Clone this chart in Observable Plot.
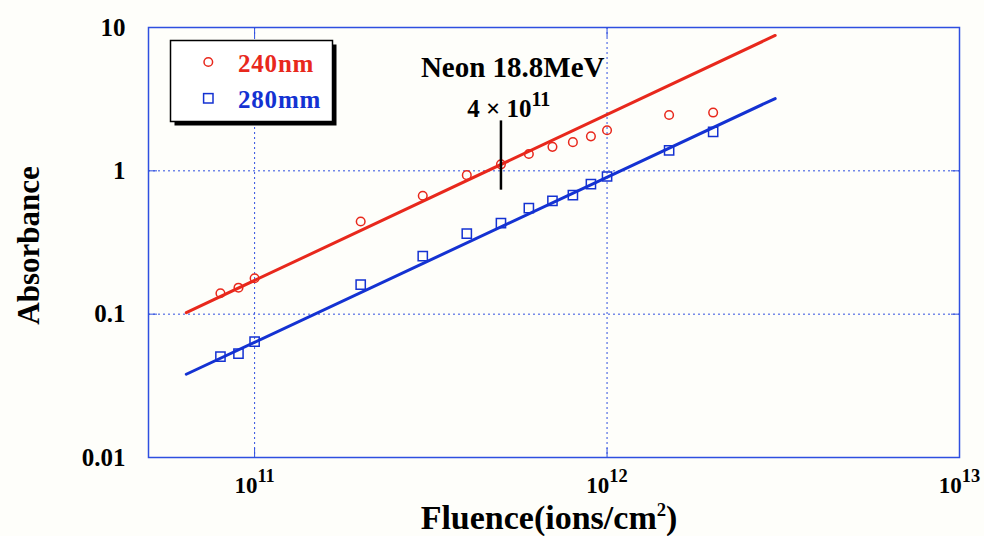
<!DOCTYPE html>
<html><head><meta charset="utf-8">
<script src="https://cdn.jsdelivr.net/npm/d3@7"></script>
<script src="https://cdn.jsdelivr.net/npm/@observablehq/plot@0.6"></script>
<style>
html,body{margin:0;padding:0;background:#fefefa;}
#wrap{position:relative;width:984px;height:536px;}
</style></head><body><div id="wrap"></div>
<script>
// ---- data ----
const fluence = [8e10, 9e10, 1e11, 2e11, 3e11, 4e11, 5e11, 6e11, 7e11, 8e11, 9e11, 1e12, 1.5e12, 2e12];
const abs240 = [0.140, 0.153, 0.178, 0.443, 0.67, 0.933, 1.11, 1.31, 1.47, 1.585, 1.74, 1.92, 2.45, 2.55];
const abs280 = [0.0506, 0.0531, 0.0644, 0.161, 0.254, 0.365, 0.431, 0.549, 0.617, 0.676, 0.808, 0.913, 1.39, 1.87];
const fitFluence = [6.4e10, 3e12];
const fit240 = [0.1026, 8.8];
const fit280 = [0.0381, 3.195];
const seriesNames = ["240nm", "280mm"];
const xTicks = [1e11, 1e12, 1e13];
const yTicks = [0.01, 0.1, 1, 10];
const xGrid = [1e11, 1e12];
const yGrid = [0.1, 1];
const noteTexts = ["Neon 18.8MeV", "4 × 10^{11}"];
const noteX = [5.4e11, 5.26e11];
const noteY = [4.53, 2.36];
const markerX = [5e11];
const markerY = [0.733, 2.23];
const xLabel = "Fluence(ions/cm^{2})";
const yLabel = "Absorbance";

const RED = "#e8281c", BLUE = "#1432d2", AX = "#2f4fe0";
const FONT = "'Liberation Serif','Times New Roman',serif";

const pts240 = fluence.map((x, i) => ({x, y: abs240[i]}));
const pts280 = fluence.map((x, i) => ({x, y: abs280[i]}));
const line240 = fitFluence.map((x, i) => ({x, y: fit240[i]}));
const line280 = fitFluence.map((x, i) => ({x, y: fit280[i]}));
const notes = noteTexts.map((t, i) => ({t, x: noteX[i], y: noteY[i]}));

const plot = Plot.plot({
  width: 984, height: 536,
  marginLeft: 148, marginRight: 25, marginTop: 27, marginBottom: 79,
  style: {background: "transparent", fontFamily: FONT, fontWeight: "bold", color: "#000"},
  x: {type: "log", domain: [5e10, 1e13]},
  y: {type: "log", domain: [0.01, 10]},
  marks: [
    Plot.gridX(xGrid, {stroke: AX, strokeOpacity: 1, strokeDasharray: "2,3", strokeWidth: 1}),
    Plot.gridY(yGrid, {stroke: AX, strokeOpacity: 1, strokeDasharray: "2,3", strokeWidth: 1}),
    Plot.frame({stroke: AX, strokeWidth: 1.5}),
    Plot.axisX(xGrid, {anchor: "bottom", tickSize: -9, stroke: AX, tickFormat: () => "", label: null}),
    Plot.axisX(xGrid, {anchor: "top", tickSize: -9, stroke: AX, tickFormat: () => "", label: null}),
    Plot.axisY(yGrid, {anchor: "left", tickSize: -9, stroke: AX, tickFormat: () => "", label: null}),
    Plot.axisY(yGrid, {anchor: "right", tickSize: -9, stroke: AX, tickFormat: () => "", label: null}),
    Plot.axisX(xTicks, {anchor: "bottom", tickSize: 0, tickPadding: 19, fontSize: 23,
      tickFormat: d => `10^{${Math.round(Math.log10(d))}}`, label: null}),
    Plot.axisY(yTicks, {anchor: "left", tickSize: 0, tickPadding: 23, fontSize: 25,
      tickFormat: d => String(d), label: null}),
    Plot.text([xLabel], {frameAnchor: "bottom", textAnchor: "middle", lineAnchor: "bottom", dy: 71, dx: -5, fontSize: 34}),
    Plot.text([yLabel], {frameAnchor: "left", textAnchor: "middle", rotate: -90, lineAnchor: "middle", dx: -119, dy: 3, fontSize: 31}),
    Plot.line(line240, {x: "x", y: "y", stroke: RED, strokeWidth: 3}),
    Plot.line(line280, {x: "x", y: "y", stroke: BLUE, strokeWidth: 3}),
    Plot.dot(pts240, {x: "x", y: "y", r: 4.3, stroke: RED, fill: "none", strokeWidth: 1.5}),
    Plot.dot(pts280, {x: "x", y: "y", symbol: "square", r: 5.2, stroke: BLUE, fill: "none", strokeWidth: 1.5}),
    Plot.ruleX(markerX, {y1: markerY[0], y2: markerY[1], stroke: "#000", strokeWidth: 2.5}),
    Plot.text(notes.slice(0, 1), {x: "x", y: "y", text: "t", lineAnchor: "bottom", fontSize: 29, letterSpacing: 1}),
    Plot.text(notes.slice(1), {x: "x", y: "y", text: "t", lineAnchor: "bottom", fontSize: 25, letterSpacing: 1})
  ]
});
const wrap = document.getElementById("wrap");
wrap.appendChild(plot);

// superscripts written as ^{...}
function esc(s) { return s.replace(/&/g, "&amp;").replace(/</g, "&lt;"); }
plot.querySelectorAll("text").forEach(t => {
  const targets = t.querySelector("tspan") ? Array.from(t.querySelectorAll("tspan")) : [t];
  targets.forEach(n => {
    const s = n.textContent;
    if (!s.includes("^{")) return;
    const fs = parseFloat(getComputedStyle(n).fontSize);
    const small = s === xLabel;
    const scale = small ? 0.55 : 0.8, shift = (small ? 0.36 : 0.45) * fs;
    const parts = s.split(/\^\{([^}]*)\}/);
    let html = "", raised = false;
    parts.forEach((p, i) => {
      if (i % 2 === 0) {
        if (!p) return;
        html += raised ? `<tspan dy="${shift}">${esc(p)}</tspan>` : esc(p);
        raised = false;
      } else {
        html += `<tspan dy="${raised ? 0 : -shift}" font-size="${fs * scale}">${esc(p)}</tspan>`;
        raised = true;
      }
    });
    n.innerHTML = html;
  });
});

// legend box
const leg = d3.create("svg").attr("width", 190).attr("height", 105)
  .style("position", "absolute").style("left", "160px").style("top", "30px");
leg.append("rect").attr("x", 14.5).attr("y", 14.5).attr("width", 162).attr("height", 81).attr("fill", "#000");
leg.append("rect").attr("x", 10.5).attr("y", 10.5).attr("width", 162).attr("height", 81)
  .attr("fill", "#fff").attr("stroke", "#000").attr("stroke-width", 1.5);
leg.append("circle").attr("cx", 48.3).attr("cy", 32).attr("r", 4.3)
  .attr("fill", "none").attr("stroke", RED).attr("stroke-width", 1.5);
leg.append("rect").attr("x", 43.6).attr("y", 63.6).attr("width", 9.4).attr("height", 9.4)
  .attr("fill", "none").attr("stroke", BLUE).attr("stroke-width", 1.5);
[RED, BLUE].forEach((c, i) => {
  leg.append("text").attr("x", 78).attr("y", i ? 78 : 41.7).attr("fill", c)
    .attr("font-family", FONT).attr("font-weight", "bold").attr("font-size", 25)
    .attr("letter-spacing", 0.8).text(seriesNames[i]);
});
wrap.appendChild(leg.node());
</script></body></html>
